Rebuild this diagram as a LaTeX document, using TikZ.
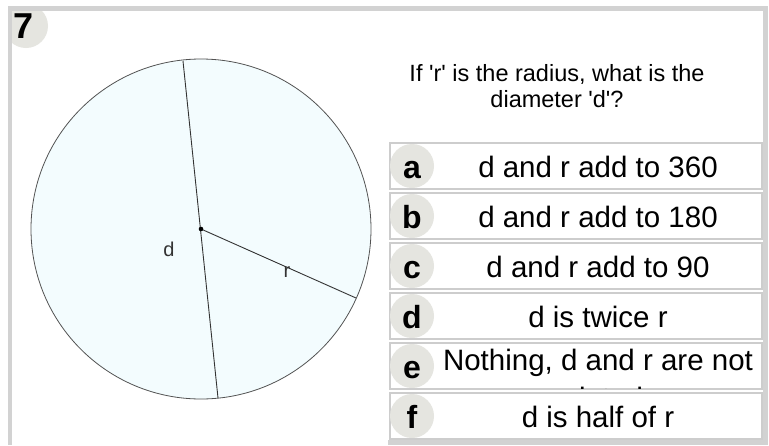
\documentclass[tikz,border=0pt]{standalone}
\usepackage{fontspec}
\setmainfont{Liberation Sans}[Ligatures=TeXOff]
\usepackage{xcolor}
\usepackage{tikz}
\usetikzlibrary{positioning}
\definecolor{frame}{HTML}{D2D2D2}
\definecolor{edge}{HTML}{CDCDCD}
\definecolor{badgebg}{HTML}{E5E5E0}
\definecolor{disc}{HTML}{F3FCFE}
\definecolor{ink}{HTML}{333333}

\begin{document}
\begin{tikzpicture}[
  x=1pt,y=-1pt,
  node distance=2pt,
  answer/.style={draw=edge,line width=2pt,fill=white,minimum width=372pt,
                 minimum height=46pt,inner sep=0pt},
  badge/.style={circle,fill=badgebg,minimum size=44pt,inner sep=0pt,
                text height=25pt,text depth=0pt,
                font=\fontsize{32}{34}\selectfont\bfseries},
  anstext/.style={anchor=base,inner sep=0pt,font=\fontsize{29.5}{34}\selectfont},
  lab/.style={inner sep=0pt,font=\fontsize{20}{22}\selectfont,text=ink}
]
\useasboundingbox (0,0) rectangle (769,445);
\fill[white] (0,0) rectangle (769,445);

% number badge
\begin{scope}
  \clip (12,11) rectangle (769,445);
  \fill[badgebg] (26,26) circle (22);
\end{scope}
\node[inner sep=0pt,font=\fontsize{36}{38}\selectfont\bfseries] (num) at (24,26) {7};

% the circle
\coordinate (o) at (201,229);
\coordinate (dtop) at (183,61);
\coordinate (dbot) at (218,398);
\coordinate (rend) at (356,298);
\fill[disc] (o) circle (170);
\draw[ink!85,line width=0.8pt] (o) circle (170);
\draw[ink,line width=0.9pt] (dtop) -- (dbot);
\draw[ink,line width=0.9pt] (o) -- (rend);
\fill[black] (o) circle (2.3);
\node[lab] (dlab) at (169,249) {d};
\node[lab] (rlab) at (287,272) {r};

% question
\node[align=center,inner sep=0pt,font=\fontsize{23.5}{26}\selectfont] (q) at (557,86)
  {If 'r' is the radius, what is the\\diameter 'd'?};

% answers
\node[answer] (a) at (576,166) {};
\node[answer,below=of a] (b) {};
\node[answer,below=of b] (c) {};
\node[answer,below=of c] (d) {};
\node[answer,below=of d] (e) {};
\node[answer,below=of e] (f) {};

\node[badge] (la) at ([xshift=-164pt]a.center) {a};
\node[badge] (lb) at ([xshift=-164pt]b.center) {b};
\node[badge] (lc) at ([xshift=-164pt]c.center) {c};
\node[badge] (ld) at ([xshift=-164pt]d.center) {d};
\node[badge] (le) at ([xshift=-164pt]e.center) {e};
\node[badge] (lf) at ([xshift=-164pt]f.center) {f};

\node[anstext] (ta) at ([xshift=22pt,yshift=-11pt]a.center) {d and r add to 360};
\node[anstext] (tb) at ([xshift=22pt,yshift=-11pt]b.center) {d and r add to 180};
\node[anstext] (tc) at ([xshift=22pt,yshift=-11pt]c.center) {d and r add to 90};
\node[anstext] (td) at ([xshift=22pt,yshift=-11pt]d.center) {d is twice r};
\begin{scope}
  \clip ([yshift=-2pt]e.north west) rectangle ([yshift=2pt]e.south east);
  \node[anstext] (te) at ([xshift=22pt,yshift=-4pt]e.center) {Nothing, d and r are not};
  \node[anstext,text depth=0pt] (te2) at ([xshift=22pt,yshift=-42pt]e.center) {related};
\end{scope}
\node[anstext] (tf) at ([xshift=22pt,yshift=-11pt]f.center) {d is half of r};

% card frame
\fill[frame] (8,6) rectangle (768,11);
\fill[frame] (8,6) rectangle (12,445);
\fill[frame] (763,6) rectangle (768,445);
\fill[frame] (388,440) rectangle (768,445);
\end{tikzpicture}
\end{document}
